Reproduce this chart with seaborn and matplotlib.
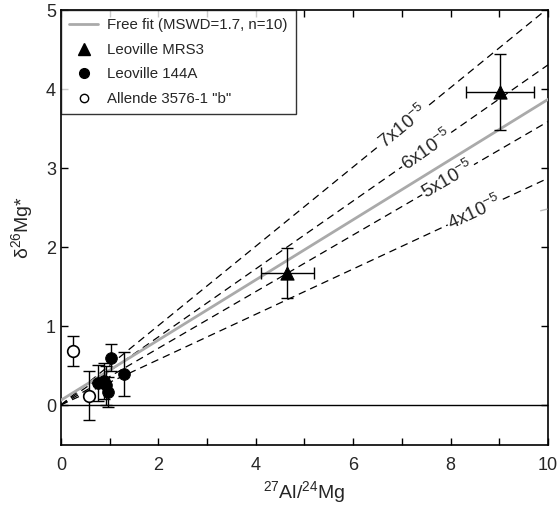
import numpy as np
import pandas as pd
import seaborn as sns
import matplotlib.pyplot as plt
from matplotlib.lines import Line2D
from matplotlib.ticker import MultipleLocator

# Data.
mrs3_x = [4.65, 9.01]
mrs3_y = [1.67, 3.96]
mrs3_xerr = [0.55, 0.70]
mrs3_yerr = [0.32, 0.48]

l144_x = [0.76, 0.88, 0.93, 0.96, 1.03, 1.29]
l144_y = [0.28, 0.30, 0.25, 0.16, 0.60, 0.39]
l144_yerr = [0.23, 0.23, 0.25, 0.19, 0.17, 0.28]

allende_x = [0.24, 0.57]
allende_y = [0.68, 0.12]
allende_yerr = [0.19, 0.31]

# Reference isochrones (initial 26Al/27Al) and free fit.
iso_ratios = [4e-5, 5e-5, 6e-5, 7e-5]
iso_labels = ["4x10$^{-5}$", "5x10$^{-5}$", "6x10$^{-5}$", "7x10$^{-5}$"]
iso_label_x = [8.50, 7.95, 7.51, 7.02]
fit_intercept = 0.06
fit_slope = 0.381

sns.set_style("ticks")
plt.rcParams["font.family"] = ["Liberation Sans", "DejaVu Sans"]
plt.rcParams["mathtext.fontset"] = "custom"
plt.rcParams["mathtext.rm"] = "Liberation Sans"
plt.rcParams["mathtext.it"] = "Liberation Sans"

fig = plt.figure(figsize=(5.58, 5.08), dpi=100)
ax = fig.add_axes([0.109, 0.125, 0.873, 0.855])

xs = np.array([0, 10])

# Isochrones.
for r, lab, lx in zip(iso_ratios, iso_labels, iso_label_x):
    k = r * 1000 / 0.13932
    ax.plot(xs, k * xs, color="black", lw=0.9, ls=(0, (6, 4)), zorder=1)
    ang = np.degrees(np.arctan(k))
    ax.text(lx, k * lx, lab, rotation=ang, rotation_mode="anchor",
            transform_rotates_text=True, ha="center", va="center",
            fontsize=13.5, bbox=dict(facecolor="white", edgecolor="none", pad=1),
            zorder=2)

# Free fit.
ax.plot(xs, fit_intercept + fit_slope * xs, color="#aaaaaa", lw=2, zorder=3)
ax.plot([9.85, 9.98], [2.46, 2.48], color="#bbbbbb", lw=1, zorder=3)

ax.axhline(0, color="black", lw=1, zorder=1)

# Error bars.
ax.errorbar(mrs3_x, mrs3_y, xerr=mrs3_xerr, yerr=mrs3_yerr, fmt="none",
            ecolor="black", elinewidth=1, capsize=4, zorder=4)
ax.errorbar(l144_x, l144_y, yerr=l144_yerr, fmt="none",
            ecolor="black", elinewidth=1, capsize=4, zorder=4)
ax.errorbar(allende_x, allende_y, yerr=allende_yerr, fmt="none",
            ecolor="black", elinewidth=1, capsize=4, zorder=4)

# Markers.
sns.scatterplot(x=mrs3_x, y=mrs3_y, marker="^", s=90, color="black",
                edgecolor="black", ax=ax, zorder=5)
sns.scatterplot(x=l144_x, y=l144_y, marker="o", s=70, color="black",
                edgecolor="black", ax=ax, zorder=5)
sns.scatterplot(x=allende_x, y=allende_y, marker="o", s=70, color="white",
                edgecolor="black", linewidth=1.2, ax=ax, zorder=5)

ax.set_xlim(0, 10)
ax.set_ylim(-0.5, 5)
ax.xaxis.set_major_locator(MultipleLocator(2))
ax.xaxis.set_minor_locator(MultipleLocator(1))
ax.yaxis.set_major_locator(MultipleLocator(1))
ax.tick_params(which="both", direction="in", top=True, right=True,
               labelsize=13, width=1, color="black")
ax.tick_params(which="major", length=5)
ax.tick_params(which="minor", length=5)
ax.tick_params(axis="x", pad=9)
for s in ax.spines.values():
    s.set_linewidth(1.2)
    s.set_color("black")

ax.set_xlabel("$^{27}$Al/$^{24}$Mg", fontsize=14, labelpad=4)
ax.set_ylabel("δ$^{26}$Mg*", fontsize=14, labelpad=8)

handles = [
    Line2D([], [], color="#aaaaaa", lw=2),
    Line2D([], [], color="black", marker="^", ls="none", markersize=8),
    Line2D([], [], color="black", marker="o", ls="none", markersize=7),
    Line2D([], [], color="black", marker="o", ls="none", markersize=6,
           markerfacecolor="white"),
]
labels = ["Free fit (MSWD=1.7, n=10)", "Leoville MRS3", "Leoville 144A",
          'Allende 3576-1 "b"']
leg = ax.legend(handles, labels, loc="upper left", bbox_to_anchor=(0, 1),
                borderaxespad=0, fontsize=10.8, frameon=True, fancybox=False,
                handlelength=1.95, handletextpad=0.6, borderpad=0.55,
                labelspacing=0.7)
leg.get_frame().set_edgecolor("black")
leg.get_frame().set_linewidth(1)
leg.set_zorder(10)

fig.savefig("out.png", dpi=100)
